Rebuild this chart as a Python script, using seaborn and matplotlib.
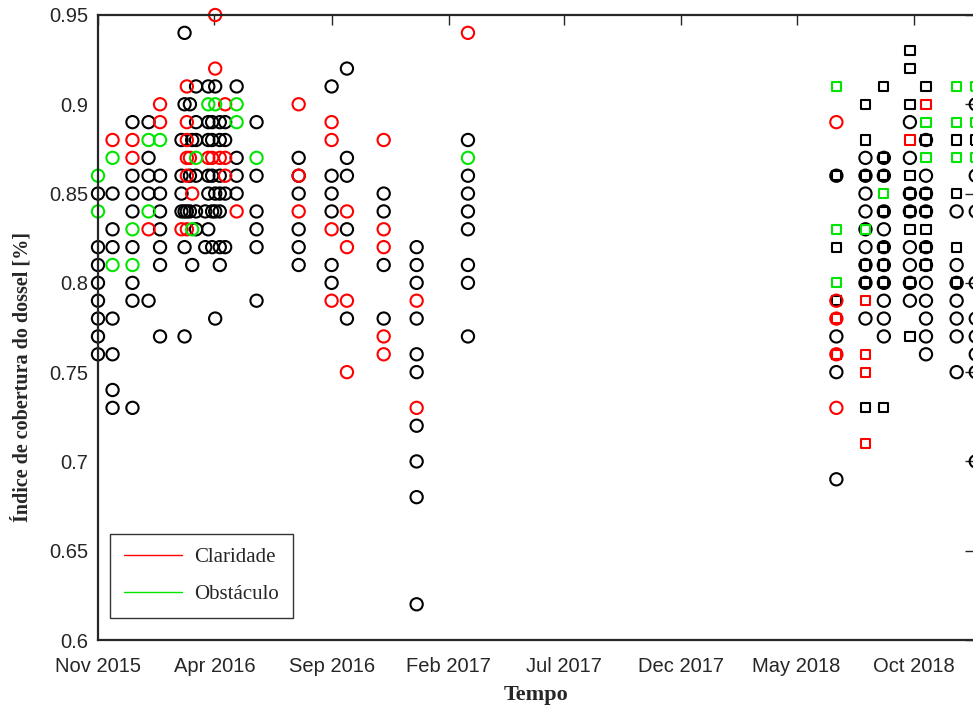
import matplotlib
matplotlib.use("Agg")
import matplotlib.pyplot as plt
from matplotlib.lines import Line2D
import pandas as pd
import seaborn as sns

# ---------------- data ----------------
# each series: date -> list of canopy-cover values
black_circles = {
    "2015-11-01": [0.85, 0.82, 0.81, 0.80, 0.79, 0.78, 0.77, 0.76],
    "2015-11-20": [0.85, 0.83, 0.82, 0.78, 0.76, 0.74, 0.73],
    "2015-12-16": [0.89, 0.86, 0.85, 0.84, 0.82, 0.80, 0.79, 0.73],
    "2016-01-06": [0.89, 0.87, 0.86, 0.85, 0.79],
    "2016-01-21": [0.86, 0.85, 0.84, 0.83, 0.82, 0.81, 0.77],
    "2016-02-18": [0.88, 0.86, 0.85, 0.84],
    "2016-02-22": [0.94, 0.90, 0.84, 0.82, 0.77],
    "2016-02-25": [0.84],
    "2016-02-29": [0.90, 0.86, 0.84],
    "2016-03-03": [0.88, 0.81],
    "2016-03-08": [0.91, 0.89, 0.88, 0.86, 0.84, 0.83],
    "2016-03-20": [0.84, 0.82],
    "2016-03-24": [0.91, 0.89, 0.88, 0.86, 0.85, 0.83],
    "2016-03-29": [0.89, 0.88, 0.86, 0.84, 0.82],
    "2016-04-02": [0.91, 0.85, 0.84, 0.78],
    "2016-04-08": [0.89, 0.88, 0.86, 0.85, 0.84, 0.82, 0.81],
    "2016-04-15": [0.89, 0.88, 0.85, 0.82],
    "2016-04-30": [0.91, 0.87, 0.86, 0.85],
    "2016-05-26": [0.89, 0.86, 0.84, 0.83, 0.82, 0.79],
    "2016-07-20": [0.87, 0.86, 0.85, 0.83, 0.82, 0.81],
    "2016-09-01": [0.91, 0.86, 0.85, 0.84, 0.81, 0.80],
    "2016-09-21": [0.92, 0.87, 0.86, 0.83, 0.78],
    "2016-11-08": [0.85, 0.84, 0.81, 0.78],
    "2016-12-21": [0.82, 0.81, 0.80, 0.78, 0.76, 0.75, 0.72, 0.70, 0.68, 0.62],
    "2017-02-26": [0.88, 0.86, 0.85, 0.84, 0.83, 0.81, 0.80, 0.77],
    "2018-06-22": [0.86, 0.77, 0.75, 0.69],
    "2018-07-30": [0.87, 0.86, 0.85, 0.84, 0.83, 0.82, 0.81, 0.80, 0.78],
    "2018-08-23": [0.87, 0.86, 0.84, 0.83, 0.82, 0.81, 0.80, 0.79, 0.78, 0.77],
    "2018-09-26": [0.89, 0.87, 0.85, 0.84, 0.82, 0.81, 0.80, 0.79],
    "2018-10-17": [0.88, 0.86, 0.85, 0.84, 0.82, 0.81, 0.80, 0.79, 0.78, 0.77, 0.76],
    "2018-11-26": [0.84, 0.81, 0.80, 0.79, 0.78, 0.77, 0.75],
    "2018-12-21": [0.90, 0.86, 0.84, 0.80, 0.78, 0.77, 0.76, 0.75, 0.70],
}
red_circles = {
    "2015-11-20": [0.88],
    "2015-12-16": [0.88, 0.87],
    "2016-01-06": [0.83],
    "2016-01-21": [0.90, 0.89],
    "2016-02-18": [0.83],
    "2016-02-25": [0.91, 0.89, 0.88, 0.87, 0.86, 0.83],
    "2016-02-29": [0.87],
    "2016-03-03": [0.85],
    "2016-03-24": [0.87],
    "2016-03-29": [0.87],
    "2016-04-02": [0.95, 0.92],
    "2016-04-08": [0.87],
    "2016-04-15": [0.90, 0.87, 0.86],
    "2016-04-30": [0.84],
    "2016-07-20": [0.90, 0.86, 0.84],
    "2016-09-01": [0.89, 0.88, 0.83, 0.79],
    "2016-09-21": [0.84, 0.82, 0.79, 0.75],
    "2016-11-08": [0.88, 0.83, 0.82, 0.77, 0.76],
    "2016-12-21": [0.79, 0.73],
    "2017-02-26": [0.94],
    "2018-06-22": [0.89, 0.79, 0.78, 0.76, 0.73],
}
green_circles = {
    "2015-11-01": [0.86, 0.84],
    "2015-11-20": [0.87, 0.81],
    "2015-12-16": [0.83, 0.81],
    "2016-01-06": [0.88, 0.84],
    "2016-01-21": [0.88],
    "2016-03-03": [0.83],
    "2016-03-08": [0.87],
    "2016-03-24": [0.90],
    "2016-04-02": [0.90],
    "2016-04-30": [0.90, 0.89],
    "2016-05-26": [0.87],
    "2017-02-26": [0.87],
}
black_squares = {
    "2018-06-22": [0.86, 0.82, 0.79, 0.76],
    "2018-07-30": [0.90, 0.88, 0.86, 0.81, 0.80, 0.73],
    "2018-08-23": [0.91, 0.87, 0.86, 0.84, 0.82, 0.81, 0.80, 0.73],
    "2018-09-26": [0.93, 0.92, 0.90, 0.86, 0.85, 0.84, 0.83, 0.80, 0.77],
    "2018-10-17": [0.91, 0.88, 0.85, 0.84, 0.83, 0.82, 0.81],
    "2018-11-26": [0.88, 0.85, 0.82, 0.80],
    "2018-12-21": [0.88],
}
red_squares = {
    "2018-06-22": [0.78, 0.76],
    "2018-07-30": [0.79, 0.76, 0.75, 0.71],
    "2018-09-26": [0.88],
    "2018-10-17": [0.90],
}
green_squares = {
    "2018-06-22": [0.91, 0.83, 0.80],
    "2018-07-30": [0.83],
    "2018-08-23": [0.85],
    "2018-10-17": [0.89, 0.87],
    "2018-11-26": [0.91, 0.89, 0.87],
    "2018-12-21": [0.91, 0.89, 0.87],
}

x_tick_dates = ["2015-11-01", "2016-04-01", "2016-09-01", "2017-02-01",
                "2017-07-01", "2017-12-01", "2018-05-01", "2018-10-01"]
x_tick_labels = ["Nov 2015", "Apr 2016", "Sep 2016", "Feb 2017",
                 "Jul 2017", "Dec 2017", "May 2018", "Oct 2018"]
y_ticks = [0.6, 0.65, 0.7, 0.75, 0.8, 0.85, 0.9, 0.95]
y_tick_labels = ["0.6", "0.65", "0.7", "0.75", "0.8", "0.85", "0.9", "0.95"]
legend_labels = ["Claridade", "Obstáculo"]

RED = "#ff0000"
GREEN = "#00e600"
BLACK = "#000000"


def to_frame(series):
    rows = [(pd.Timestamp(d), v) for d, vals in series.items() for v in vals]
    return pd.DataFrame(rows, columns=["date", "value"])


sns.set_style("white")
plt.rcParams["font.family"] = ["Liberation Sans", "DejaVu Sans"]

fig = plt.figure(figsize=(9.73, 7.10), dpi=100)
W, H = 973, 710
ax = fig.add_axes([98 / W, 70 / H, (975 - 98) / W, 625 / H])

CIRC, SQ, LW = 78, 44, 1.5
layers = [
    (black_circles, "o", BLACK, CIRC),
    (black_squares, "s", BLACK, SQ),
    (red_circles, "o", RED, CIRC),
    (red_squares, "s", RED, SQ),
    (green_circles, "o", GREEN, CIRC),
    (green_squares, "s", GREEN, SQ),
]
for series, marker, col, size in layers:
    df = to_frame(series)
    sns.scatterplot(data=df, x="date", y="value", marker=marker, s=size,
                    color=col, facecolor="none", edgecolor=col,
                    linewidth=LW, ax=ax, legend=False)
    coll = ax.collections[-1]
    coll.set_facecolor("none")
    coll.set_edgecolor(col)
    coll.set_linewidth(LW)
    coll.set_clip_on(False)

ax.set_xlim(pd.Timestamp("2015-11-01"), pd.Timestamp("2018-12-20"))
ax.set_ylim(0.6, 0.95)
ax.set_xticks([pd.Timestamp(d) for d in x_tick_dates])
ax.set_xticklabels(x_tick_labels)
ax.set_yticks(y_ticks)
ax.set_yticklabels(y_tick_labels)

ax.tick_params(direction="in", length=7, width=1.0, top=True, right=True,
               labelsize=14.5, colors="#262626")
ax.tick_params(axis="x", pad=12)
ax.tick_params(axis="y", pad=7)
for sp in ax.spines.values():
    sp.set_linewidth(1.6)
    sp.set_color("#262626")
    sp.set_visible(True)

ax.set_xlabel("Tempo", fontfamily="Liberation Serif", fontweight="bold",
              fontsize=16, color="#262626", labelpad=7)
ax.set_ylabel("")
fig.text(22 / W, 1 - 377 / H, "Índice de cobertura do dossel [%]",
         rotation=90, ha="center", va="center",
         fontfamily="Liberation Serif", fontweight="bold", fontsize=14.5,
         color="#262626")

handles = [Line2D([], [], color=RED, lw=1.0),
           Line2D([], [], color=GREEN, lw=1.0)]
leg = fig.legend(handles, legend_labels, loc="lower left",
                 bbox_to_anchor=(110 / W, (H - 618) / H),
                 prop={"family": "Liberation Serif", "size": 15},
                 frameon=True, fancybox=False, framealpha=1,
                 edgecolor="#333333", borderpad=0.65, labelspacing=0.85,
                 handlelength=2.8, handletextpad=0.6, borderaxespad=0)
leg.get_frame().set_linewidth(1.0)

fig.savefig("out.png", dpi=100)
